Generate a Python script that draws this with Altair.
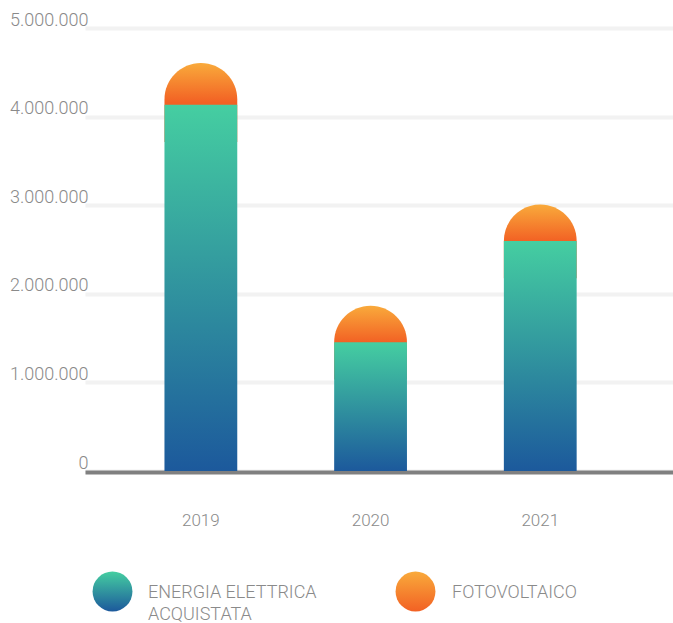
import altair as alt
import pandas as pd

# ---- data ----
years = ["2019", "2020", "2021"]
energia = [4133000, 1452000, 2596000]          # ENERGIA ELETTRICA ACQUISTATA
fotovoltaico = [472000, 414000, 412000]        # FOTOVOLTAICO
y_ticks = [0, 1000000, 2000000, 3000000, 4000000, 5000000]
legend_names = ["ENERGIA ELETTRICA ACQUISTATA", "FOTOVOLTAICO"]
legend_lines = [["ENERGIA ELETTRICA", "ACQUISTATA"], ["FOTOVOLTAICO"]]

df = pd.DataFrame({"anno": years, "energia": energia, "fotovoltaico": fotovoltaico})
leg_df = pd.DataFrame({"serie": legend_names})

TEXT = "#8a8a8a"
FONT = "Roboto"
NBSP = "\u00a0"

teal = alt.LinearGradient(
    gradient="linear", x1=0, y1=0, x2=0, y2=1,
    stops=[alt.GradientStop(color="#45cea1", offset=0),
           alt.GradientStop(color="#1c599c", offset=1)])
# the cap bar runs down behind the teal bar (so the round top can be a full
# half circle); its visible part is the upper half of its gradient
orange_cap = alt.LinearGradient(
    gradient="linear", x1=0, y1=0, x2=0, y2=1,
    stops=[alt.GradientStop(color="#f9aa3b", offset=0),
           alt.GradientStop(color="#f26124", offset=0.5),
           alt.GradientStop(color="#f26124", offset=1)])
orange = alt.LinearGradient(
    gradient="linear", x1=0, y1=0, x2=0, y2=1,
    stops=[alt.GradientStop(color="#f9aa3b", offset=0),
           alt.GradientStop(color="#f26124", offset=1)])

x_enc = alt.X(
    "anno:N",
    scale=alt.Scale(paddingInner=0.571, paddingOuter=0.518, align=0.452),
    axis=alt.Axis(title=None, labelAngle=0, labelFont=FONT, labelFontSize=17,
                  labelFontWeight=300, labelColor=TEXT, labelPadding=53,
                  labelBaseline="alphabetic", ticks=False, tickSize=0,
                  domainColor="#808080", domainWidth=4, grid=False, offset=1))

y_scale = alt.Scale(domain=[0, 5000000], nice=False)
y_axis = alt.Axis(title=None, values=y_ticks, grid=True, gridColor="#f2f2f2",
                  gridWidth=4, domain=False, ticks=False, tickSize=0,
                  labelFont=FONT, labelFontSize=18, labelFontWeight=300,
                  labelColor=TEXT, labelAlign="right", labelPadding=-3,
                  labelBaseline="alphabetic", labelOffset=-3,
                  labelExpr="datum.value == 0 ? '0" + NBSP * 4 + "' : "
                            "replace(format(datum.value, ','), regexp(',', 'g'), '.')")

base = alt.Chart(df).transform_calculate(
    totale="datum.energia + datum.fotovoltaico",
    cap_base="datum.energia - 420000",
)

bars_f = base.mark_bar(color=orange_cap, cornerRadiusTopLeft=36.5,
                       cornerRadiusTopRight=36.5).encode(
    x=x_enc,
    y=alt.Y("cap_base:Q", scale=y_scale, axis=y_axis),
    y2=alt.Y2("totale:Q"),
)
bars_e = base.mark_bar(color=teal).encode(
    x=x_enc,
    y=alt.Y("energia:Q", scale=y_scale, axis=y_axis),
)

leg = alt.Chart(leg_df)
leg_c1 = leg.transform_filter(alt.datum.serie == legend_names[0]).mark_circle(
    color=teal, opacity=1, size=1590).encode(x=alt.value(27.5), y=alt.value(563.5))
leg_c2 = leg.transform_filter(alt.datum.serie == legend_names[1]).mark_circle(
    color=orange, opacity=1, size=1590).encode(x=alt.value(330.5), y=alt.value(563.5))
leg_t1 = leg.transform_filter(alt.datum.serie == legend_names[0]).mark_text(
    text=legend_lines[0], align="left", baseline="alphabetic", font=FONT,
    fontSize=18, fontWeight=300, color=TEXT, lineHeight=22).encode(
    x=alt.value(63), y=alt.value(570))
leg_t2 = leg.transform_filter(alt.datum.serie == legend_names[1]).mark_text(
    text=legend_lines[1], align="left", baseline="alphabetic", font=FONT,
    fontSize=18, fontWeight=300, color=TEXT).encode(
    x=alt.value(367), y=alt.value(570))

chart = alt.layer(bars_f, bars_e, leg_c1, leg_c2, leg_t1, leg_t2).properties(
    width=588, height=443,
    background="white",
    autosize=alt.AutoSizeParams(type="none"),
    padding={"left": 85, "top": 28, "right": 0, "bottom": 152},
).configure_view(stroke=None)

chart.save("out.html", embed_options={"renderer": "svg", "actions": False})
